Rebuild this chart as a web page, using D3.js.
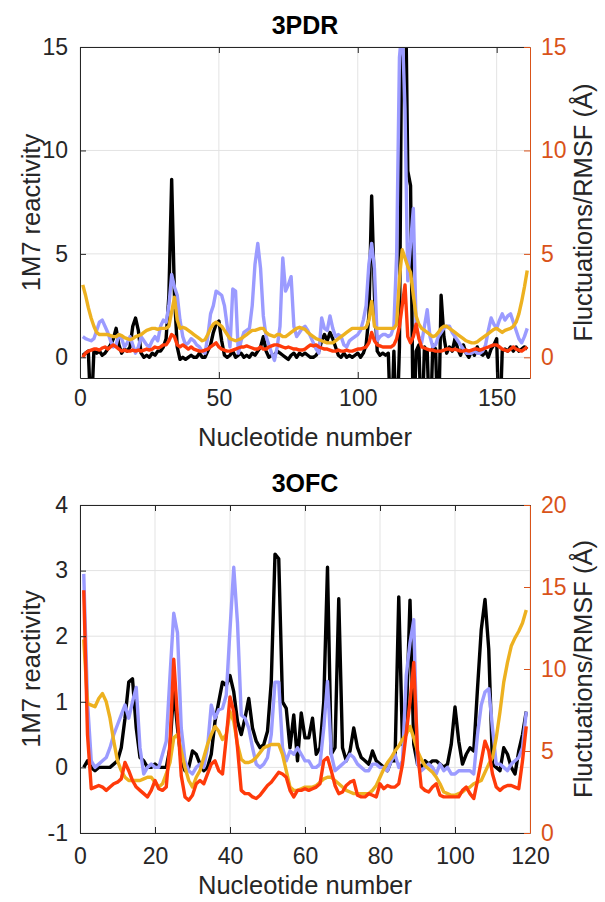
<!DOCTYPE html>
<html>
<head>
<meta charset="utf-8">
<script src="https://cdn.jsdelivr.net/npm/d3@7"></script>
<style>
  body { margin: 0; background: #fff; }
  text { font-family: "Liberation Sans", Arial, Helvetica, sans-serif; }
</style>
</head>
<body>
<script>
// ---- 3PDR (nucleotides 1..161) ----
var pdrReactivity = [0.1,0.2,0.3,-3,0.3,0.2,0.3,0.1,0.2,0.4,
  0.6,0.9,1.4,0.6,0.2,0.4,0.3,0.5,1.5,1.9,
  1.3,0.2,0,0.1,0,0.2,0.1,0.3,0.3,0.5,
  0.9,3,8.6,3,0.5,-0.1,0,-0.1,0,0.1,
  0,0,0.2,0,0,0.3,0.6,1.2,1.6,1.75,
  0.8,0.1,0,0.1,0.3,0,0.1,0.2,0,0.1,
  0,0.2,0.1,0.3,0.5,1,0.3,0,0.1,0.1,
  0.3,0.2,0.1,0,-0.1,0.1,0.2,0,0.2,0.1,
  0.2,0.1,0,0,0.1,0.3,0.8,1.1,0.8,1.2,
  0.9,0.5,0.1,0,0.2,0,0.1,0,0.1,0.2,
  0,0.2,0.6,2,7.8,3,0.3,0.1,0.2,0.1,
  0.2,-4,0.3,-4,0.5,20,20,9,8.3,-4,
  0.3,0.6,-4,0.5,0.3,-4,0.6,0.4,-4,3,
  1,0.2,0.5,0.3,0.9,0.4,0.1,0.6,0.2,0,
  0.3,0.1,0.5,0.2,0.1,0.3,0,0.4,0.6,0.9,
  -4,0.3,0.4,0.3,0.5,0.3,0.5,0.3,0.4,0.5,0.4];
var pdrBlue = [1,0.9,0.85,0.8,0.9,1.3,1.7,1.8,1.5,1.2,
  0.8,0.5,0.6,1.1,0.9,0.5,0.7,1,0.6,0.2,
  0.5,1,0.8,0.6,0.5,0.8,1,0.8,1.5,1.8,
  1.7,2.5,4,3.4,3,1.8,1,0.6,0.7,0.9,
  0.8,0.6,0.5,0.3,0.2,1,2.1,2.5,3.2,3.1,
  3,2.5,1.5,0.5,3.3,3.2,0.2,0.8,1.2,1.3,
  1.4,2.5,4.5,5.5,4.3,2,1,0.6,0.2,-0.15,
  0.5,1.5,4.8,3.2,3.5,3.9,1.5,1,1.2,1.4,
  1.5,1.3,1,0.7,0.4,0.2,1.9,1.4,1.3,2,
  1.4,1,1.1,1,0.6,0.5,0.8,0.9,1,1.1,
  1.3,1.8,2.5,4.5,5.5,4.3,0.8,1,1.1,1.1,
  1,1.1,1.5,5,14.5,16,12,3.7,5.5,7.2,
  1.5,1,0.7,1.5,2.3,1,0.5,0.6,1,1.2,
  1.4,1.5,1.5,1.2,1,0.8,0.6,0.4,0.2,0.2,
  0.2,0.3,0.2,0.2,0.3,0.6,1.3,1.9,1.6,1.4,
  1.8,2.1,1.8,2,2.1,1.7,1.3,0.9,0.7,1,1.4];
var pdrFluct = [3.5,3,2.4,1.9,1.5,1.2,1.1,1.1,1.1,1.1,
  1.05,1,1,1.1,1.05,0.95,0.9,0.85,0.9,1,
  1.05,1.1,1.2,1.3,1.35,1.4,1.4,1.35,1.4,1.4,
  1.4,1.5,2.2,2.9,1.8,1.4,1.45,1.4,1.3,1.2,
  1.1,1,0.9,0.8,0.85,1.1,1.4,1.6,1.7,1.6,
  1.5,1.3,1.1,0.9,0.85,0.8,0.85,0.9,1,1.1,
  1.2,1.3,1.3,1.35,1.4,1.4,1.2,1.1,1.05,1,
  1.1,1.1,1,1,1.1,1.2,1.3,1.4,1.45,1.4,
  1.35,1.2,1.1,1,0.9,0.85,0.8,0.75,0.7,0.7,
  0.7,0.8,0.9,1,1.1,1.2,1.3,1.4,1.4,1.4,
  1.4,1.4,1.45,1.8,2.7,1.5,1.4,1.4,1.4,1.4,
  1.4,1.4,1.4,1.6,3.8,5.2,4.8,4.4,4.1,3,
  2,1.6,1.4,1.3,1.2,1.1,1,1.05,1.2,1.4,
  1.5,1.5,1.4,1.3,1.2,1.1,1,0.9,0.8,0.75,
  0.7,0.7,0.75,0.85,0.95,1.05,1.15,1.25,1.35,1.4,
  1.3,1.2,1.3,1.35,1.4,1.5,1.7,2.1,2.7,3.4,4.2];
var pdrRmsf = [0,0.2,0.3,0.35,0.4,0.4,0.35,0.45,0.5,0.4,
  0.5,0.6,0.5,0.4,0.3,0.35,0.3,0.3,0.35,0.3,
  0.35,0.3,0.35,0.4,0.35,0.4,0.5,0.45,0.5,0.6,
  0.6,0.8,1.1,1,0.6,0.5,0.6,0.5,0.4,0.5,
  0.4,0.35,0.3,0.3,0.35,0.4,0.5,0.6,0.7,0.5,
  0.4,0.35,0.3,0.3,0.35,0.4,0.45,0.5,0.5,0.55,
  0.5,0.45,0.4,0.4,0.5,0.4,0.4,0.5,0.55,0.6,
  0.6,0.55,0.5,0.45,0.5,0.45,0.4,0.4,0.35,0.35,
  0.4,0.5,0.6,0.55,0.6,0.5,0.45,0.4,0.4,0.35,
  0.3,0.3,0.35,0.3,0.3,0.35,0.3,0.3,0.35,0.4,
  0.4,0.45,0.5,0.7,1.2,0.8,0.6,0.55,0.5,0.5,
  0.5,0.5,0.6,0.9,1.5,2.5,3.5,1,0.7,1,
  1.6,0.9,0.5,0.45,0.4,0.35,0.35,0.3,0.3,0.3,
  0.35,0.4,0.4,0.35,0.4,0.35,0.3,0.3,0.35,0.3,
  0.35,0.4,0.4,0.35,0.4,0.45,0.5,0.55,0.6,0.6,
  0.5,0.4,0.35,0.3,0.4,0.5,0.4,0.35,0.3,0.4,0.5];
var pdrXTicks = [0, 50, 100, 150];
var pdrLeftTicks = [0, 5, 10, 15];
var pdrRightTicks = [0, 5, 10, 15];

// ---- 3OFC (nucleotides 1..119) ----
var ofcReactivity = [0,0.1,0,-0.05,0,0,0,0,0.05,0.1,
  0.3,0.75,1.3,1.35,0.6,0.15,0.1,0,0,0.05,
  0,0,0,0.3,1.2,0.6,0.1,-0.05,0,0.25,
  0.2,0.05,-0.05,0,0.2,0.7,1,1.3,1.25,1.4,
  1.15,0.7,0.5,0.75,1.05,0.6,0.4,0.3,0.35,0.55,
  1.3,3.25,3.18,1,0.9,0.3,0.8,0.1,0.83,0.45,
  0.45,0.75,0.2,0.3,1,3.05,0.2,0.3,2.57,0.3,
  0.1,0.25,0.6,0.3,0.15,0.1,0.05,0.25,0.1,0.05,
  0,-0.05,0.1,0.1,2.6,0.35,0.7,2.55,0.35,0.05,
  0,0.1,0.05,0.1,0.1,0.05,0,0.05,0.35,0.92,
  0.4,0.05,0.2,0.3,0.25,1.2,2.1,2.56,1.8,0.05,
  0,-0.05,0.3,0.2,0,-0.1,0.25,0.5,0.85];
var ofcBlue = [2.95,1,0.1,0,0.05,0.1,0.15,0.3,0.5,0.65,
  0.8,0.95,0.75,1,1.22,0.3,-0.1,0,0.05,0,
  0,0.2,0.4,1.4,2.35,2.05,0.6,0.1,-0.05,-0.1,
  0,0.05,0,0.3,0.95,0.75,0.88,0.9,1.1,2.1,
  3.05,2.2,0.8,0.75,0.6,0.3,0.05,0,0.05,0.15,
  0.5,1.3,1.3,0.3,0.1,0.25,0.2,0.3,0.2,0.1,
  0.1,0,0,0.05,0.6,1.31,0.2,-0.05,0,0.05,
  0.1,0.2,0.15,0.05,0,-0.05,-0.05,0.05,0.05,0,
  0,-0.05,0.1,0.2,0,0.1,1.4,1.9,2.25,0.05,
  -0.05,0,0.05,0,-0.1,0.05,-0.05,0,-0.1,-0.1,
  -0.05,-0.05,-0.05,-0.05,-0.1,0.5,0.95,1.15,1.2,0.6,
  0.05,0.05,0,-0.05,0.05,0.1,0.15,0.3,0.85];
var ofcFluct = [11.8,7.9,7.8,7.7,8.2,8.5,8,7,5.6,4.4,
  3.8,3.4,3.2,3.2,3.2,3.2,3.3,3.4,3.4,3.1,
  2.8,3,3.6,4.3,5.8,6,5,4,3.2,2.8,
  3.4,3.8,4.6,5.4,6,6.5,6.2,5.7,6,7.4,
  6.8,5.4,4.5,4.3,4.3,4.4,4.6,4.9,5.2,5.3,
  5.4,5.4,5.4,4.8,3.8,2.8,2.6,2.6,2.7,2.8,
  2.8,2.8,2.9,3.1,3.3,3.4,3.4,3.2,3,2.8,
  2.6,2.5,2.4,2.4,2.4,2.4,2.4,2.6,2.9,3.4,
  3.9,4.3,4.6,5,5.3,5.7,6,6.5,5.8,5,
  4.5,4.1,3.9,3.7,3.4,3,2.5,2.4,2.3,2.3,
  2.4,2.5,2.7,2.8,3,3.1,3.2,3.7,4.2,4.6,
  5.8,7.4,9.2,10.4,11.4,11.9,12.3,12.8,13.6];
var ofcRmsf = [14.8,6,2.7,2.8,2.9,2.8,2.6,2.8,3,3.1,
  3.3,4.3,3.8,3.2,2.8,2.6,2.4,2.2,2.6,3.2,
  2.7,2.6,2.8,5.5,10.6,7,3.5,2.2,2,2.3,
  3,3.2,3,3.6,4.2,4.4,3.8,3.6,5.8,8.3,
  7.4,5.2,2.6,2.4,2.4,2.2,2.1,2.3,2.6,2.9,
  3.1,3.4,3.7,3.6,3.4,2.6,2.2,2.6,2.6,2.7,
  2.6,2.7,2.8,3,4.4,4.6,3.8,2.9,2.4,2.5,
  2.9,3.1,3.2,2.3,2.2,2.2,2.4,2.3,2.2,3,
  2.7,2.9,2.8,2.8,3,4.2,6.1,8,10.4,5,
  2.8,2.6,2.5,2.8,3,2.3,2.2,2.2,2.2,2.2,
  2.2,2.6,2.8,2.4,2.1,3.2,4.4,5.6,5,3.6,
  2.8,2.6,2.8,2.9,2.9,2.8,2.7,4.4,6.5];
var ofcXTicks = [0, 20, 40, 60, 80, 100, 120];
var ofcLeftTicks = [-1, 0, 1, 2, 3, 4];
var ofcRightTicks = [0, 5, 10, 15, 20];

var w = 605, h = 902,
    left = 80, right = 530;

var ink = '#262626', orange = '#D95319', grid = '#e3e3e3';
var colors = { black: '#000000', blue: '#9b9bff', yellow: '#EDB120', red: '#ff3a0a' };
var plain = function(d) { return String(d); };

var svg = d3.select('body').append('svg')
  .attr('width', w)
  .attr('height', h)
  .style('background-color', '#fff');

function panel(p) {
  var g = svg.append('g');
  var x = d3.scaleLinear().domain(p.xDomain).range([left, right]);
  var yL = d3.scaleLinear().domain(p.leftDomain).range([p.bottom, p.top]);
  var yR = d3.scaleLinear().domain(p.rightDomain).range([p.bottom, p.top]);

  // grid
  g.append('g').selectAll('line').data(p.xTicks).enter().append('line')
    .attr('x1', function(d) { return x(d); }).attr('x2', function(d) { return x(d); })
    .attr('y1', p.top).attr('y2', p.bottom)
    .attr('stroke', grid).attr('stroke-width', 1);
  g.append('g').selectAll('line').data(p.leftTicks).enter().append('line')
    .attr('x1', left).attr('x2', right)
    .attr('y1', function(d) { return yL(d); }).attr('y2', function(d) { return yL(d); })
    .attr('stroke', grid).attr('stroke-width', 1);

  var clipId = 'clip-' + p.name;
  svg.append('clipPath').attr('id', clipId).append('rect')
    .attr('x', left).attr('y', p.top)
    .attr('width', right - left).attr('height', p.bottom - p.top);

  var lines = g.append('g').attr('clip-path', 'url(#' + clipId + ')');
  p.series.forEach(function(s) {
    var y = s.axis === 'right' ? yR : yL;
    var line = d3.line()
      .x(function(d, i) { return x(i + 1); })
      .y(function(d) { return y(d); });
    lines.append('path')
      .attr('d', line(s.values))
      .attr('fill', 'none')
      .attr('stroke', s.color)
      .attr('stroke-width', 3.4)
      .attr('stroke-linejoin', 'round');
  });

  // axes, ticks pointing inwards
  var ax = g.append('g');
  ax.append('g').attr('transform', 'translate(0,' + p.bottom + ')')
    .call(d3.axisBottom(x).tickValues(p.xTicks).tickFormat(plain)
      .tickSize(-6).tickSizeOuter(0).tickPadding(p.xPad));
  ax.append('g').attr('transform', 'translate(0,' + p.top + ')')
    .call(d3.axisTop(x).tickValues(p.xTicks).tickSize(-6).tickSizeOuter(0).tickFormat(''));
  ax.append('g').attr('transform', 'translate(' + left + ',0)')
    .call(d3.axisLeft(yL).tickValues(p.leftTicks).tickFormat(plain)
      .tickSize(-6).tickSizeOuter(0).tickPadding(12));
  ax.selectAll('path, line').attr('stroke', ink);
  ax.selectAll('text').attr('fill', ink).style('font-size', '23px')
    .style('font-family', '"Liberation Sans", Arial, sans-serif');

  var ar = g.append('g').attr('transform', 'translate(' + right + ',0)')
    .call(d3.axisRight(yR).tickValues(p.rightTicks).tickFormat(plain)
      .tickSize(-6).tickSizeOuter(0).tickPadding(11));
  ar.selectAll('path, line').attr('stroke', orange);
  ar.selectAll('text').attr('fill', orange).style('font-size', '23px')
    .style('font-family', '"Liberation Sans", Arial, sans-serif');

  // titles and labels
  g.append('text')
    .attr('x', (left + right) / 2).attr('y', p.top - 13)
    .attr('text-anchor', 'middle')
    .style('font-size', '25px').style('font-weight', 'bold')
    .text(p.name);
  g.append('text')
    .attr('x', (left + right) / 2).attr('y', p.bottom + p.labelGap)
    .attr('text-anchor', 'middle').attr('fill', ink)
    .style('font-size', '25.5px')
    .text('Nucleotide number');
  var mid = (p.top + p.bottom) / 2;
  g.append('text')
    .attr('transform', 'translate(40,' + mid + ') rotate(-90)')
    .attr('text-anchor', 'middle').attr('fill', ink)
    .style('font-size', '25.5px')
    .text('1M7 reactivity');
  g.append('text')
    .attr('transform', 'translate(592,' + mid + ') rotate(-90)')
    .attr('text-anchor', 'middle').attr('fill', ink)
    .style('font-size', '25.5px')
    .text('Fluctuations/RMSF (Å)');
}

panel({
  name: '3PDR', top: 47, bottom: 378, labelGap: 68, xPad: 12,
  xDomain: [0, 162], leftDomain: [-1, 15], rightDomain: [-1, 15],
  xTicks: pdrXTicks, leftTicks: pdrLeftTicks, rightTicks: pdrRightTicks,
  series: [
    { values: pdrReactivity, color: colors.black, axis: 'left' },
    { values: pdrBlue, color: colors.blue, axis: 'left' },
    { values: pdrFluct, color: colors.yellow, axis: 'right' },
    { values: pdrRmsf, color: colors.red, axis: 'right' }
  ]
});

panel({
  name: '3OFC', top: 505, bottom: 833, labelGap: 61, xPad: 15,
  xDomain: [0, 120], leftDomain: [-1, 4], rightDomain: [0, 20],
  xTicks: ofcXTicks, leftTicks: ofcLeftTicks, rightTicks: ofcRightTicks,
  series: [
    { values: ofcReactivity, color: colors.black, axis: 'left' },
    { values: ofcBlue, color: colors.blue, axis: 'left' },
    { values: ofcFluct, color: colors.yellow, axis: 'right' },
    { values: ofcRmsf, color: colors.red, axis: 'right' }
  ]
});
</script>
</body>
</html>
